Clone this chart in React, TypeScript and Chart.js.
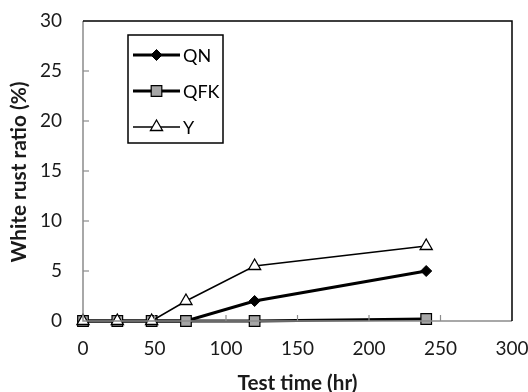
import React, { useEffect, useRef } from 'react';
import { Chart, registerables } from 'chart.js';
import * as helpers from 'chart.js/helpers';
Chart.register(...registerables);

const testTimes = [0, 24, 48, 72, 120, 240];
const qnValues = [0, 0, 0, 0, 2, 5];
const qfkValues = [0, 0, 0, 0, 0, 0.2];
const yValues = [0, 0, 0, 2, 5.5, 7.5];
const seriesNames = ['QN', 'QFK', 'Y'];
const xTitle = 'Test time (hr)';
const yTitle = 'White rust ratio (%)';

const FONT = 'Lato, "Open Sans", sans-serif';

const toPoints = (vals: number[]) => vals.map((v, i) => ({ x: testTimes[i], y: v }));

const fitSize = (text: string, target: number, maxSize: number) => {
  const c = document.createElement('canvas').getContext('2d')!;
  c.font = `bold 20px ${FONT}`;
  const w = c.measureText(text).width;
  return Math.min(maxSize, (20 * target) / w);
};

const framePlugin = {
  id: 'frame',
  afterDraw(chart: any) {
    const { ctx, chartArea } = chart;
    const { left, right, top, bottom } = chartArea;
    const xs = chart.scales.x;
    const ys = chart.scales.y;
    ctx.save();
    ctx.strokeStyle = '#8c8c8c';
    ctx.lineWidth = 1.5;
    ctx.beginPath();
    ctx.moveTo(left, top);
    ctx.lineTo(left, bottom);
    ctx.lineTo(right, bottom);
    ctx.stroke();
    ctx.lineWidth = 1.2;
    ys.ticks.forEach((t: any) => {
      if (t.value <= ys.min || t.value >= ys.max) return;
      const py = ys.getPixelForValue(t.value);
      ctx.beginPath();
      ctx.moveTo(left, py);
      ctx.lineTo(left + 6, py);
      ctx.stroke();
    });
    xs.ticks.forEach((t: any) => {
      if (t.value <= xs.min || t.value >= xs.max) return;
      const px = xs.getPixelForValue(t.value);
      ctx.beginPath();
      ctx.moveTo(px, bottom);
      ctx.lineTo(px, bottom - 6);
      ctx.stroke();
    });
    ctx.strokeStyle = '#000';
    ctx.lineWidth = 1.5;
    ctx.beginPath();
    ctx.moveTo(left, top);
    ctx.lineTo(right, top);
    ctx.lineTo(right, bottom);
    ctx.stroke();
    // y-axis title
    ctx.save();
    ctx.translate(26, top + (bottom - top) / 2 + 1);
    ctx.rotate(-Math.PI / 2);
    ctx.fillStyle = '#1a1a1a';
    ctx.font = `bold ${fitSize(yTitle, 181, 23)}px ${FONT}`;
    ctx.textAlign = 'center';
    ctx.textBaseline = 'alphabetic';
    ctx.fillText(yTitle, 0, 0);
    ctx.restore();
    ctx.restore();
  },
};

const legendPlugin = {
  id: 'customLegend',
  afterDraw(chart: any) {
    const { ctx } = chart;
    const bx = 128;
    const by = 35;
    const bw = 95;
    const bh = 108;
    ctx.save();
    ctx.fillStyle = '#fff';
    ctx.fillRect(bx, by, bw, bh);
    ctx.strokeStyle = '#000';
    ctx.lineWidth = 1.5;
    ctx.strokeRect(bx, by, bw, bh);
    seriesNames.forEach((name, i) => {
      const ds = chart.data.datasets.find((d: any) => d.label === name);
      const cy = by + 20 + i * 36;
      const x0 = bx + 5;
      const x1 = bx + 52;
      ctx.strokeStyle = ds.borderColor;
      ctx.lineWidth = ds.borderWidth;
      ctx.beginPath();
      ctx.moveTo(x0, cy);
      ctx.lineTo(x1, cy);
      ctx.stroke();
      ctx.fillStyle = ds.pointBackgroundColor;
      ctx.strokeStyle = ds.pointBorderColor;
      ctx.lineWidth = ds.pointBorderWidth;
      (helpers as any).drawPoint(ctx, { pointStyle: ds.pointStyle, radius: ds.pointRadius, borderWidth: ds.pointBorderWidth, rotation: 0 }, (x0 + x1) / 2, cy);
      ctx.fillStyle = '#000';
      ctx.font = `18px ${FONT}`;
      ctx.textBaseline = 'middle';
      ctx.textAlign = 'left';
      ctx.fillText(name, x1 + 3, cy + 1);
    });
    ctx.restore();
  },
};

export default function App() {
  const ref = useRef<HTMLCanvasElement | null>(null);
  useEffect(() => {
    if (!ref.current) return;
    const chart = new Chart(ref.current, {
      type: 'line',
      data: {
        datasets: [
          {
            label: 'QN',
            data: toPoints(qnValues),
            borderColor: '#000',
            borderWidth: 3,
            pointStyle: 'rectRot',
            pointRadius: 5.5,
            pointBackgroundColor: '#000',
            pointBorderColor: '#000',
            pointBorderWidth: 1,
            order: 2,
            clip: false,
          },
          {
            label: 'QFK',
            data: toPoints(qfkValues),
            borderColor: '#000',
            borderWidth: 3,
            pointStyle: 'rect',
            pointRadius: 7.5,
            pointBackgroundColor: '#a6a6a6',
            pointBorderColor: '#000',
            pointBorderWidth: 1.2,
            order: 1,
            clip: false,
          },
          {
            label: 'Y',
            data: toPoints(yValues),
            borderColor: '#000',
            borderWidth: 1.5,
            pointStyle: 'triangle',
            pointRadius: 7,
            pointBackgroundColor: '#fff',
            pointBorderColor: '#000',
            pointBorderWidth: 1.3,
            order: 0,
            clip: false,
          },
        ] as any,
      },
      options: {
        animation: false,
        responsive: false,
        maintainAspectRatio: false,
        layout: { padding: { top: 21, right: 16, left: 0, bottom: 0 } },
        plugins: { legend: { display: false }, tooltip: { enabled: false } },
        elements: { line: { tension: 0 } },
        scales: {
          x: {
            type: 'linear',
            min: 0,
            max: 300,
            grid: { display: false, drawTicks: false },
            border: { display: false },
            ticks: { stepSize: 50, padding: 16, color: '#1a1a1a', font: { family: FONT, size: 19 } },
            title: { display: true, text: xTitle, color: '#1a1a1a', font: { family: FONT, size: fitSize(xTitle, 120, 23), weight: 'bold' }, padding: { top: 0, bottom: -4 } },
            afterFit(scale: any) { scale.height = 71; scale.paddingRight = 0; scale.paddingLeft = 0; },
          },
          y: {
            type: 'linear',
            min: 0,
            max: 30,
            grid: { display: false, drawTicks: false },
            border: { display: false },
            ticks: { stepSize: 5, padding: 21, color: '#1a1a1a', font: { family: FONT, size: 19 } },
            title: { display: false },
            afterFit(scale: any) { scale.width = 83; scale.paddingTop = 0; scale.paddingBottom = 0; },
          },
        },
      } as any,
      plugins: [framePlugin, legendPlugin],
    });
    return () => chart.destroy();
  }, []);
  return (
    <div style={{ position: 'fixed', left: 0, top: 0, width: 528, height: 392, background: '#fff' }}>
      <canvas ref={ref} width={528} height={392} style={{ width: 528, height: 392, display: 'block' }} />
    </div>
  );
}
